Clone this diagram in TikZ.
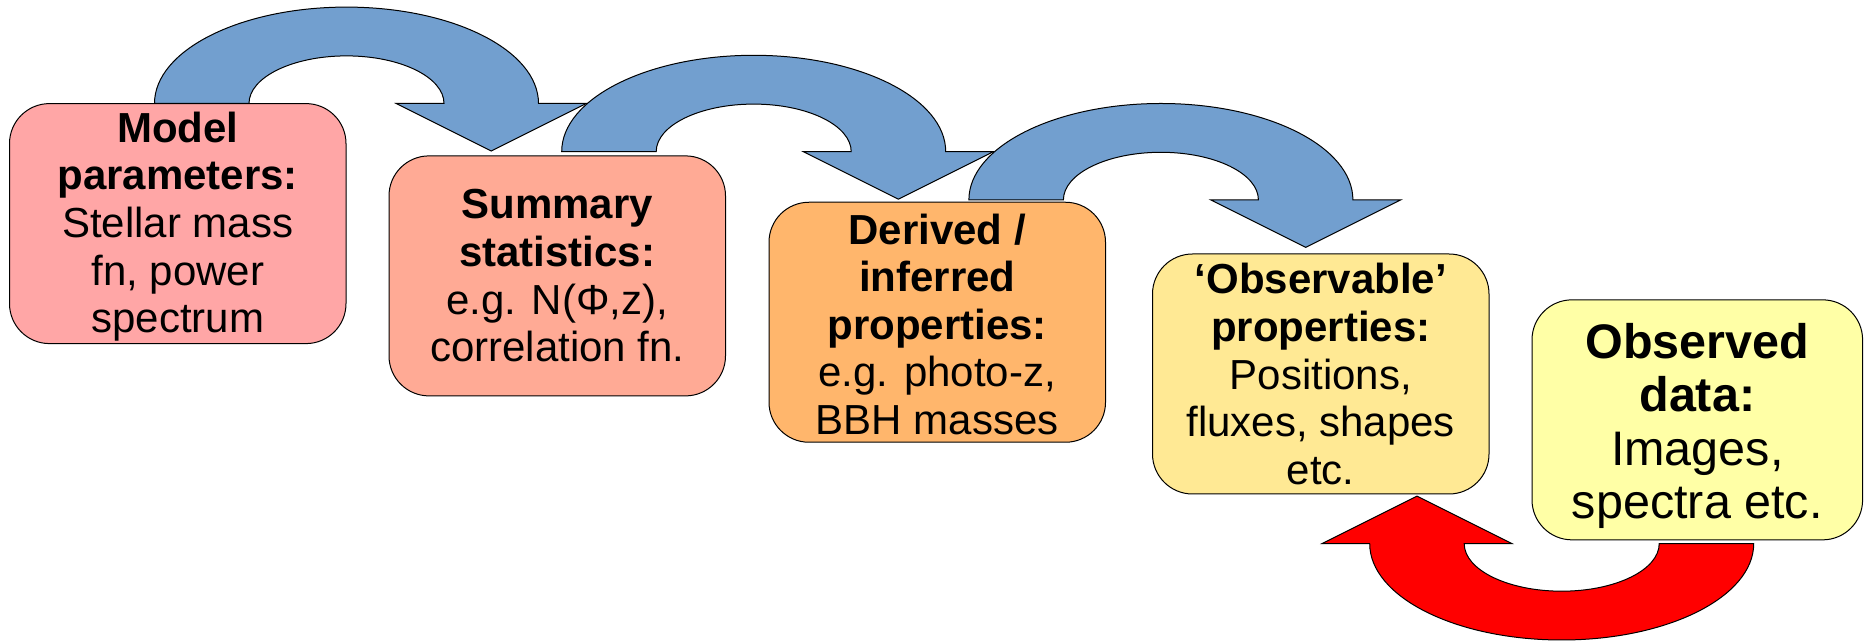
\documentclass[tikz,border=0pt]{standalone}
\usepackage{fontspec}
\setmainfont{Liberation Sans}
\definecolor{arrowblue}{HTML}{729FCF}
\definecolor{boxpink}{HTML}{FFA6A6}
\definecolor{boxsalmon}{HTML}{FFAA95}
\definecolor{boxorange}{HTML}{FFB66C}
\definecolor{boxgold}{HTML}{FFE994}
\definecolor{boxyellow}{HTML}{FFFFA6}
\tikzset{
  stagebox/.style={draw=black, line width=1pt, rounded corners=40pt,
    minimum width=336.5pt, minimum height=240pt, inner sep=0pt,
    align=center, font={\fontsize{42}{47.6}\selectfont}},
  stagetext/.style={inner sep=0pt, align=center},
  curvedarrow/.pic={
    \filldraw[line width=1pt, line join=miter]
      (-192,0) arc[start angle=180, end angle=0, x radius=192, y radius=96.4]
      -- (239.75,0) -- (144.75,-47.5) -- (49.75,0) -- (97.5,0)
      arc[start angle=0, end angle=180, x radius=97.5, y radius=47.6]
      -- cycle;
  }
}
\begin{document}
\begin{tikzpicture}[x=1pt, y=1pt]
\useasboundingbox (0,0) rectangle (1865,644);

% the chain of stages
\node[stagebox, fill=boxpink] (model) at (177.75,420.4) {};
\node[stagetext, font={\fontsize{42}{47.6}\selectfont}] (modeltext)
  at ([yshift=-3pt]model.center)
  {\textbf{Model}\\\textbf{parameters:}\\Stellar mass\\fn, power\\spectrum};
\node[stagebox, fill=boxsalmon] (summary) at (557.25,368.1)
  {\textbf{Summary}\\\textbf{statistics:}\\e.g. N(Φ,z),\\correlation fn.};
\node[stagebox, fill=boxorange] (derived) at (937.25,321.75) {};
\node[stagetext, font={\fontsize{42}{47.6}\selectfont}] (derivedtext)
  at ([yshift=-2pt]derived.center)
  {\textbf{Derived /}\\\textbf{inferred}\\\textbf{properties:}\\e.g. photo-z,\\BBH masses};
\node[stagebox, fill=boxgold] (observable) at (1320.75,270)
  {\textbf{‘Observable’}\\\textbf{properties:}\\Positions,\\fluxes, shapes\\etc.};
\node[stagebox, fill=boxyellow, minimum width=330.6pt] (observed)
  at (1697.3,224.15) {};
\node[stagetext, font={\fontsize{48.5}{53.5}\selectfont}] (observedtext)
  at ([yshift=-6pt]observed.center)
  {\textbf{Observed}\\\textbf{data:}\\Images,\\spectra etc.};

% forward steps: curved blue arrows from one stage to the next
\coordinate (a1) at (346.5,540.5);
\coordinate (a2) at (753.7,492.3);
\coordinate (a3) at (1160.9,444.1);
\path (a1) pic[fill=arrowblue] {curvedarrow};
\path (a2) pic[fill=arrowblue] {curvedarrow};
\path (a3) pic[fill=arrowblue] {curvedarrow};

% backward step: red arrow from the data to the observables
\coordinate (a4) at (1561.7,100.4);
\path (a4) pic[rotate=180, fill=red] {curvedarrow};
\end{tikzpicture}
\end{document}
